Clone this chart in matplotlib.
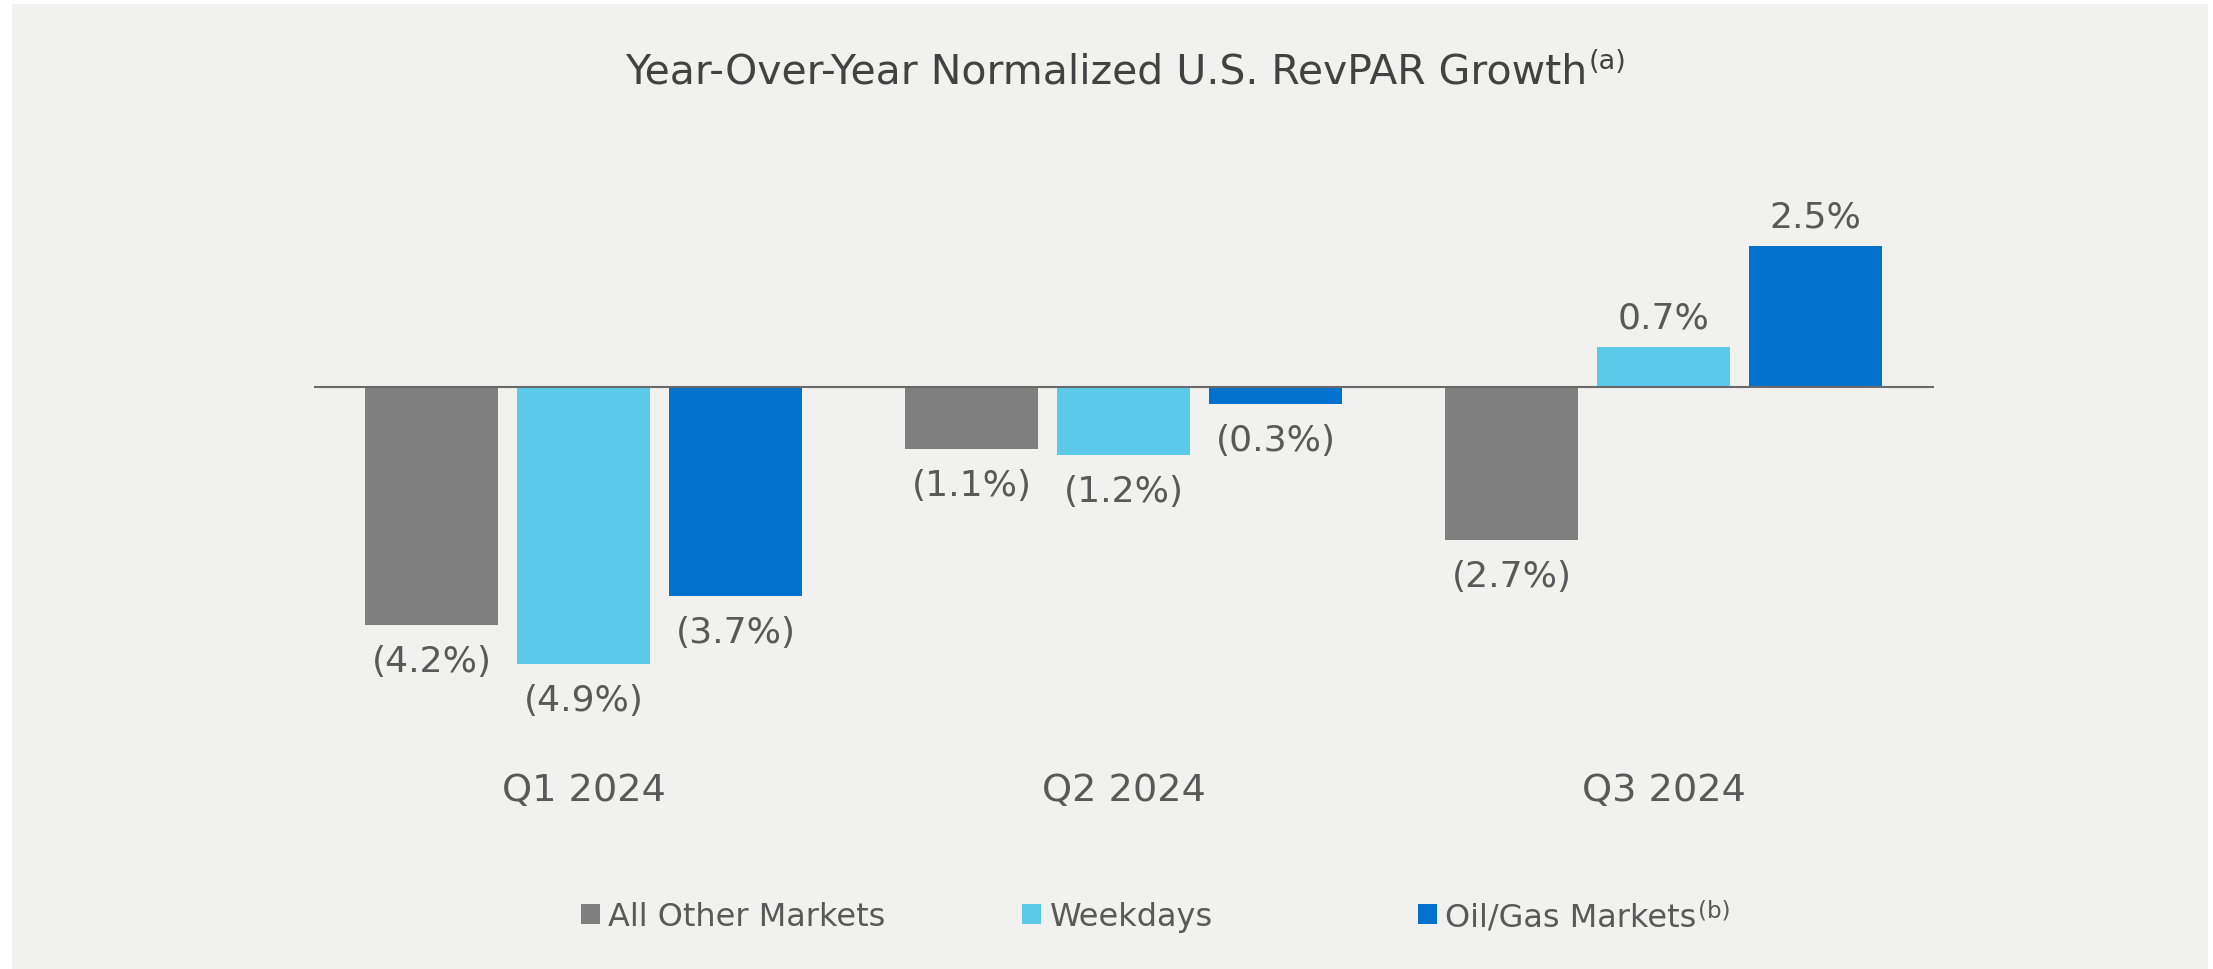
"""
Year-over-year normalized U.S. RevPAR growth by market group, Q1-Q3 2024.
Salida: out.png
"""

import matplotlib
matplotlib.use("Agg")
import matplotlib.pyplot as plt
import matplotlib.transforms as mtransforms
from matplotlib.patches import Rectangle
from matplotlib.text import Annotation
import numpy as np

# ─── Datos ────────────────────────────────────────────────────────────────────
QUARTERS = ["Q1 2024", "Q2 2024", "Q3 2024"]
SERIES_NAMES = ["All Other Markets", "Weekdays", "Oil/Gas Markets"]
ALL_OTHER = [-4.2, -1.1, -2.7]
WEEKDAYS = [-4.9, -1.2, 0.7]
OIL_GAS = [-3.7, -0.3, 2.5]
TITLE = "Year-Over-Year Normalized U.S. RevPAR Growth"

# ─── Paleta ───────────────────────────────────────────────────────────────────
COLORS = ["#7f7f7f", "#5bc9e8", "#0072ce"]
PANEL = "#f1f1f0"
TEXT = "#595959"
TITLE_COLOR = "#424242"
ZERO_LINE = "#6a6a6a"

W, H = 2213, 970  # tamaño de salida en px (dpi 100)


def fx(px):
    return px / W


def fy(px):
    return 1 - px / H


def fmt(v):
    return f"({abs(v):.1f}%)" if v < 0 else f"{v:.1f}%"


def main():
    fig = plt.figure(figsize=(W / 100, H / 100), dpi=100, facecolor="white")

    # panel gris de fondo (deja un filo blanco arriba y a los lados)
    fig.add_artist(Rectangle((fx(12), 0), fx(2196), 965 / H, transform=fig.transFigure,
                             facecolor=PANEL, edgecolor="none", zorder=-10))

    ax = fig.add_axes([fx(313.5), fy(727.6), fx(1620), 566 / H])
    ax.set_facecolor("none")
    ax.set_xlim(-0.5, 2.5)
    ax.set_ylim(-6, 4)
    ax.axis("off")

    x = np.arange(len(QUARTERS))
    offsets = [-0.2815, 0.0, 0.2815]
    containers = []
    for values, off, color, name in zip([ALL_OTHER, WEEKDAYS, OIL_GAS], offsets, COLORS, SERIES_NAMES):
        bars = ax.bar(x + off, values, width=0.2463, color=color, label=name, zorder=2)
        containers.append(bars)
        for b, v in zip(bars, values):
            ax.annotate(fmt(v), xy=(b.get_x() + b.get_width() / 2, v),
                        xytext=(0, -33 if v < 0 else 14), textcoords="offset points",
                        ha="center", va="baseline", fontsize=26, color=TEXT)

    ax.axhline(0, color=ZERO_LINE, lw=1.5, zorder=3)

    # etiquetas de trimestre
    trans = mtransforms.blended_transform_factory(ax.transData, fig.transFigure)
    for i, q in enumerate(QUARTERS):
        ax.text(i, fy(801.5), q, transform=trans, ha="center", va="baseline",
                fontsize=27.5, color=TEXT)

    # título con superíndice
    t = fig.text(fx(1106), fy(84), TITLE, ha="center", va="baseline",
                 fontsize=29.5, color=TITLE_COLOR)
    fig.add_artist(Annotation("(a)", xy=(1, 1), xycoords=t, xytext=(1, 3),
                              textcoords="offset points", ha="left", va="top",
                              fontsize=19.5, color=TITLE_COLOR))

    # leyenda: tres entradas sueltas
    legend_x = [581, 1022, 1418]
    for bars, name, lx in zip(containers, SERIES_NAMES, legend_x):
        leg = fig.legend(handles=[bars], labels=[name], loc="center left",
                         bbox_to_anchor=(fx(lx), fy(918)), frameon=False, fontsize=23,
                         handlelength=0.61, handleheight=0.61, handletextpad=0.25,
                         borderpad=0, borderaxespad=0, labelcolor=TEXT)
    sup = Annotation("(b)", xy=(1, 1), xycoords=leg.get_texts()[0], xytext=(1, 2),
                     textcoords="offset points", ha="left", va="top",
                     fontsize=16.5, color=TEXT)
    sup.set_zorder(6)
    fig.add_artist(sup)

    fig.savefig("out.png", dpi=100, facecolor="white")
    plt.close(fig)


if __name__ == "__main__":
    main()
